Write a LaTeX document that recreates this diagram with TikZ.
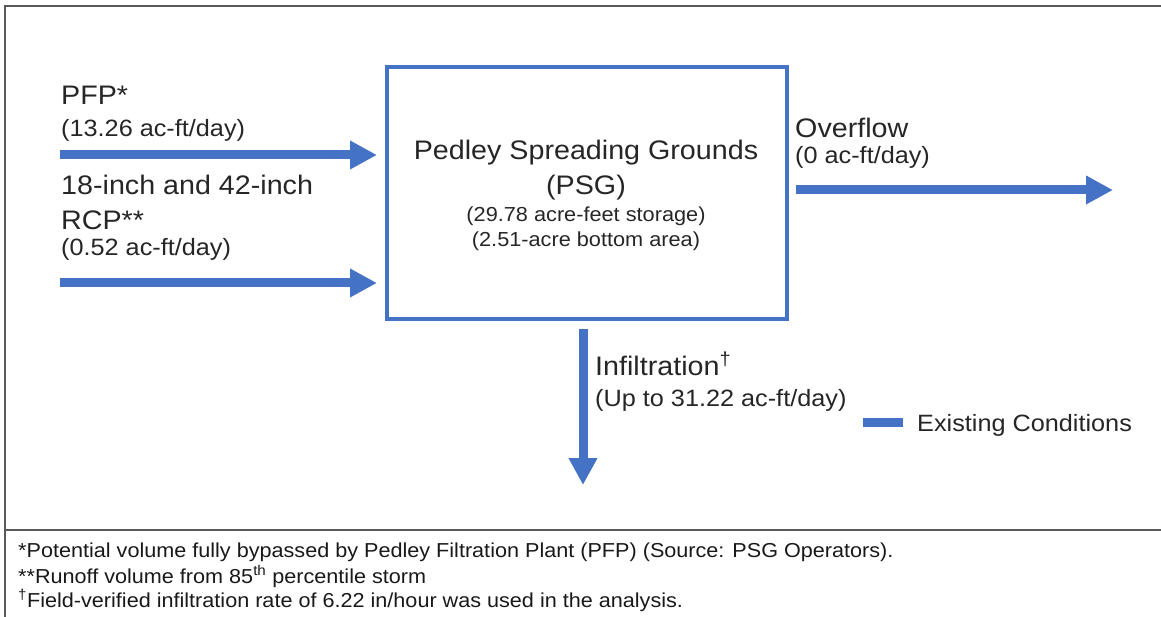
\documentclass[tikz,border=0pt]{standalone}
\usepackage{fontspec}
\setmainfont{Liberation Sans}[FakeStretch=1.07]
\usetikzlibrary{arrows.meta}
\definecolor{flowblue}{HTML}{4472C4}
\definecolor{framegray}{HTML}{5A5A5A}
\begin{document}
\begin{tikzpicture}[x=1pt,y=-1pt,
  bigtxt/.style={inner sep=0pt,anchor=base west,font=\fontsize{26.8}{30}\selectfont,text=black!85},
  smalltxt/.style={inner sep=0pt,anchor=base west,font=\fontsize{23.6}{27}\selectfont,text=black!85},
  boxsmall/.style={inner sep=0pt,anchor=base,font=\fontsize{20.3}{24}\selectfont,text=black!85},
  notetxt/.style={inner sep=0pt,anchor=base west,font=\fontsize{20.2}{23}\selectfont,text=black!90},
  flow/.style={draw=flowblue,line width=9pt,-{Triangle[length=27pt,width=27pt]}},
  framel/.style={draw=framegray,line width=2pt}]
\useasboundingbox (0,0) rectangle (1161,617);
% frame
\coordinate (ftl) at (5,6);
\coordinate (ftr) at (1161,6);
\coordinate (fbl) at (5,617);
\coordinate (fsl) at (5,530);
\coordinate (fsr) at (1161,530);
\draw[framel] (fbl) -- (ftl) -- (ftr);
\draw[framel] (fsl) -- (fsr);
% main box
\node[draw=flowblue,line width=4pt,minimum width=400pt,minimum height=252pt,inner sep=0pt] (psg) at (587,193) {};
\node[inner sep=0pt,anchor=base,font=\fontsize{26.8}{30}\selectfont,text=black!85] (psg1) at (586,160) {Pedley Spreading Grounds};
\node[inner sep=0pt,anchor=base,font=\fontsize{26.8}{30}\selectfont,text=black!85] (psg2) at (586,195) {(PSG)};
\node[boxsmall] (psg3) at (586,222) {(29.78 acre-feet storage)};
\node[boxsmall] (psg4) at (586,247) {(2.51-acre bottom area)};
% inflow PFP
\node[bigtxt] (pfp) at (61,105) {PFP*};
\node[smalltxt] (pfpq) at (61,137) {(13.26 ac-ft/day)};
\coordinate (in1) at (60,155);
\draw[flow,shorten >=8pt] (in1) -- (in1 -| psg.west);
% inflow RCP
\node[bigtxt] (rcp1) at (61,195) {18-inch and 42-inch};
\node[bigtxt] (rcp2) at (61,230) {RCP**};
\node[smalltxt] (rcpq) at (61,256) {(0.52 ac-ft/day)};
\coordinate (in2) at (60,283);
\draw[flow,shorten >=8pt] (in2) -- (in2 -| psg.west);
% overflow
\node[bigtxt] (ovf) at (795,138) {Overflow};
\node[smalltxt] (ovfq) at (795,164) {(0 ac-ft/day)};
\coordinate (out1) at (1113,190);
\draw[flow,shorten <=7pt] (out1 -| psg.east) -- (out1);
% infiltration
\node[bigtxt] (inf) at (595,375) {Infiltration\textsuperscript{†}};
\node[smalltxt] (infq) at (595,406) {(Up to 31.22 ac-ft/day)};
\coordinate (out2) at (583,485);
\draw[flow,shorten <=8pt] (out2 |- psg.south) -- (out2);
% legend
\coordinate (lg1) at (863,422);
\coordinate (lg2) at (903,422);
\draw[draw=flowblue,line width=9pt] (lg1) -- (lg2);
\node[smalltxt] (lgt) at (917,431) {Existing Conditions};
% footnotes
\node[notetxt] (n1) at (18,557) {*Potential volume fully bypassed by Pedley Filtration Plant (PFP) (Source: PSG Operators).};
\node[notetxt] (n2) at (18,583) {**Runoff volume from 85\textsuperscript{th} percentile storm};
\node[notetxt] (n3) at (18,607) {\textsuperscript{†}Field-verified infiltration rate of 6.22 in/hour was used in the analysis.};
\end{tikzpicture}
\end{document}
